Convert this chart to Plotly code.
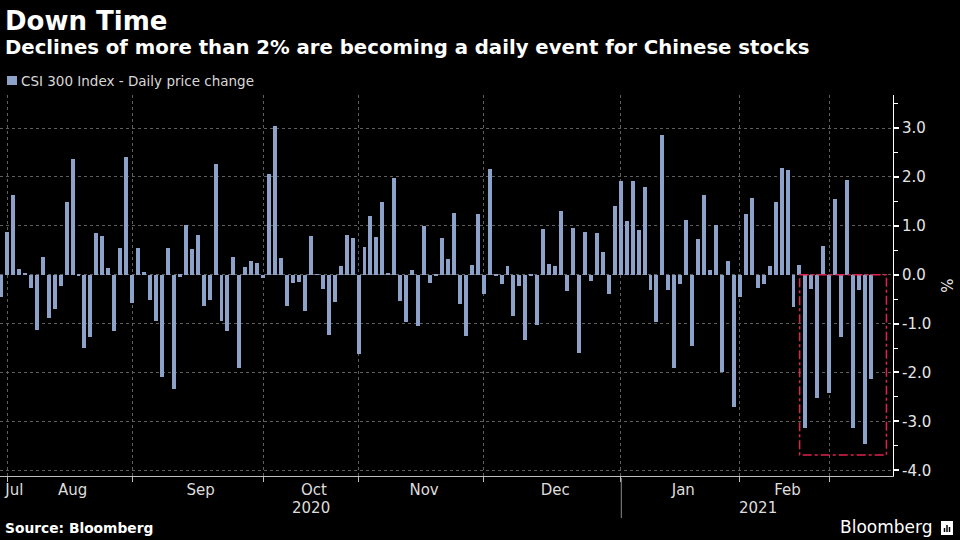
import plotly.graph_objects as go

# ---------------- data ----------------
MONTHS = ["Jul", "Aug", "Sep", "Oct", "Nov", "Dec", "Jan", "Feb", "Mar"]
MONTH_TRADING_DAYS = [2, 21, 22, 16, 21, 23, 20, 15, 7]
MONTH_LABEL_SHOWN = [True, True, True, True, True, True, True, True, False]
YEARS = ["2020", "2021"]
MONTHS_IN_YEAR = [6, 3]

DAILY_CHANGE = [
    -0.46, 0.87,                                                        # Jul
    1.64, 0.11, 0.03, -0.28, -1.14, 0.36, -0.89, -0.71, -0.24, 1.49,    # Aug
    2.36, -0.03, -1.49, -1.28, 0.86, 0.79, 0.14, -1.15, 0.54, 2.40,
    -0.57,
    0.54, 0.05, -0.52, -0.95, -2.10, 0.54, -2.33, -0.04, 1.01, 0.52,    # Sep
    0.82, -0.64, -0.51, 2.26, -0.95, -1.16, 0.36, -1.90, 0.16, 0.27,
    0.23, -0.07,
    2.05, 3.05, 0.35, -0.64, -0.16, -0.14, -0.74, 0.80, 0.01, -0.30,    # Oct
    -1.23, -0.56, 0.18, 0.82, 0.76, -1.62,
    0.56, 1.21, 0.77, 1.49, 0.02, 1.97, -0.53, -0.97, 0.09, -1.04,      # Nov
    0.99, -0.17, -0.03, 0.76, 0.32, 1.27, -0.60, -1.26, 0.20, 1.25,
    -0.40,
    2.16, -0.01, -0.18, 0.18, -0.84, -0.24, -1.33, -0.02, -1.02, 0.93,  # Dec
    0.21, 0.18, 1.30, -0.33, 0.95, -1.61, 0.87, -0.12, 0.86, 0.46,
    -0.40, 1.41, 1.92,
    1.10, 1.92, 0.92, 1.79, -0.31, -0.97, 2.86, -0.31, -1.90, -0.20,    # Jan
    1.11, -1.45, 0.72, 1.63, 0.10, 1.02, -1.99, 0.29, -2.70, -0.45,
    1.25, 1.56, -0.27, -0.18, 0.18, 1.49, 2.19, 2.15, -0.66, 0.20,      # Feb
    -3.13, -0.30, -2.53, 0.59, -2.41,
    1.54, -1.27, 1.93, -3.13, -0.31, -3.46, -2.13,                      # Mar
]
Y_TICKS = [3, 2, 1, 0, -1, -2, -3, -4]
HIGHLIGHT_START_DAY = 134   # sell-off period highlighted by the red box

SERIES_NAME = "CSI 300 Index - Daily price change"
TITLE = "Down Time"
SUBTITLE = "Declines of more than 2% are becoming a daily event for Chinese stocks"
SOURCE = "Source: Bloomberg"

# ---------------- derived positions ----------------
x = list(range(len(DAILY_CHANGE)))
starts, ends = [], []
s = 0
for n in MONTH_TRADING_DAYS:
    starts.append(s)
    ends.append(s + n - 1)
    s += n
centers = [(a + b) / 2 for a, b in zip(starts, ends)]

X_RANGE = [-0.175, 149.7]
Y_RANGE = [-4.117, 3.675]
# keep the first month label fully inside the chart
tick_pos, tick_txt = [], []
for m, c, show in zip(MONTHS, centers, MONTH_LABEL_SHOWN):
    if show:
        tick_pos.append(max(c, X_RANGE[0] + 2.4))
        tick_txt.append(m)

year_centers = []
mi = 0
for k, cnt in enumerate(MONTHS_IN_YEAR):
    a = starts[mi] - 0.5
    b = ends[mi + cnt - 1] + 0.5 if k < len(MONTHS_IN_YEAR) - 1 else X_RANGE[1]
    year_centers.append((a + b) / 2)
    mi += cnt

BAR = "#8da2c8"
RED = "#e0234e"
GRID = "#5e5e5e"
FONT = "DejaVu Sans"

fig = go.Figure(go.Bar(
    x=x, y=DAILY_CHANGE, name=SERIES_NAME, marker_color=BAR,
    marker_line_width=0, width=0.66, showlegend=False,
))

W, H = 960, 540
ML, MR, MT, MB = 0, 67, 95, 64
PW, PH = W - ML - MR, H - MT - MB


def py(ypx):
    """pixel row -> paper y"""
    return (H - MB - ypx) / PH


def px(xpx):
    return (xpx - ML) / PW


hl_vals = DAILY_CHANGE[HIGHLIGHT_START_DAY:]
shapes = [
    dict(type="rect", xref="x", yref="y",
         x0=HIGHLIGHT_START_DAY + 0.03, x1=len(DAILY_CHANGE) + 1.6,
         y0=0, y1=min(hl_vals) - 0.23,
         line=dict(color=RED, width=1.5, dash="dashdot"), layer="above"),
    dict(type="line", xref="x", yref="paper",
         x0=ends[MONTHS.index("Dec")] + 0.1, x1=ends[MONTHS.index("Dec")] + 0.1,
         y0=py(478), y1=py(518), line=dict(color="#8a8a8a", width=1)),
    # legend swatch
    dict(type="rect", xref="paper", yref="paper",
         x0=px(7), x1=px(17), y0=py(85), y1=py(76),
         fillcolor=BAR, line_width=0),
    # Bloomberg icon
    dict(type="rect", xref="paper", yref="paper",
         x0=px(941), x1=px(953), y0=py(535), y1=py(521),
         fillcolor="white", line_width=0),
]
for bx, top in [(944.5, 528), (947, 525), (949.5, 527)]:
    shapes.append(dict(type="line", xref="paper", yref="paper",
                       x0=px(bx), x1=px(bx), y0=py(532), y1=py(top),
                       line=dict(color="black", width=1.5)))

annotations = [
    dict(text=TITLE, x=px(3), y=py(21), xref="paper", yref="paper",
         xanchor="left", yanchor="middle", showarrow=False,
         font=dict(family=FONT, size=26, color="white", weight="bold")),
    dict(text=SUBTITLE, x=px(3), y=py(47), xref="paper", yref="paper",
         xanchor="left", yanchor="middle", showarrow=False,
         font=dict(family=FONT, size=19.7, color="white", weight="bold")),
    dict(text=SERIES_NAME, x=px(19), y=py(80.5), xref="paper", yref="paper",
         xanchor="left", yanchor="middle", showarrow=False,
         font=dict(family=FONT, size=13.5, color="#d8d8d8")),
    dict(text=SOURCE, x=px(3), y=py(528), xref="paper", yref="paper",
         xanchor="left", yanchor="middle", showarrow=False,
         font=dict(family=FONT, size=13.8, color="white", weight="bold")),
    dict(text="Bloomberg", x=px(934), y=py(527), xref="paper", yref="paper",
         xanchor="right", yanchor="middle", showarrow=False,
         font=dict(family=FONT, size=17, color="white")),
    dict(text="%", x=px(946), y=0.5, xref="paper", yref="paper",
         xanchor="center", yanchor="middle", showarrow=False, textangle=90,
         font=dict(family=FONT, size=15, color="#e6e6e6")),
]
for yr, c in zip(YEARS, year_centers):
    annotations.append(dict(text=yr, x=c, y=py(508), xref="x", yref="paper",
                            xanchor="center", yanchor="middle", showarrow=False,
                            font=dict(family=FONT, size=15, color="#dddddd")))

fig.update_layout(
    width=W, height=H,
    paper_bgcolor="black", plot_bgcolor="black",
    margin=dict(l=ML, r=MR, t=MT, b=MB, pad=0),
    bargap=0,
    shapes=shapes, annotations=annotations,
    xaxis=dict(
        range=X_RANGE, tickmode="array", tickvals=tick_pos, ticktext=tick_txt,
        ticks="", showgrid=False, zeroline=False,
        showline=True, linecolor="#bdbdbd", linewidth=1,
        tickfont=dict(family=FONT, size=15, color="#dddddd"),
        minor=dict(tickmode="array", tickvals=ends[:-1], ticks="outside",
                   ticklen=5, tickcolor="#bdbdbd", tickwidth=1,
                   showgrid=True, gridcolor=GRID, griddash="dot", gridwidth=1),
    ),
    yaxis=dict(
        side="right", range=Y_RANGE, tickmode="array", tickvals=Y_TICKS,
        ticktext=[f"{v:.1f}" for v in Y_TICKS],
        ticks="outside", ticklen=5, tickwidth=2, tickcolor="white",
        showline=True, linecolor="white", linewidth=1,
        showgrid=True, gridcolor=GRID, griddash="dot", gridwidth=1,
        zeroline=False,
        tickfont=dict(family=FONT, size=15, color="#e6e6e6"),
        minor=dict(tickmode="array", tickvals=[v + 0.5 for v in Y_TICKS[1:]] + [3.5],
                   ticks="outside", ticklen=4, tickcolor="white", tickwidth=1,
                   showgrid=False),
    ),
)

fig.write_html(
    "out.html",
    config={"displayModeBar": False},
    post_script="document.body.style.margin='0';document.body.style.padding='0';"
                "document.body.style.background='black';"
                "document.body.style.overflow='hidden';",
)
